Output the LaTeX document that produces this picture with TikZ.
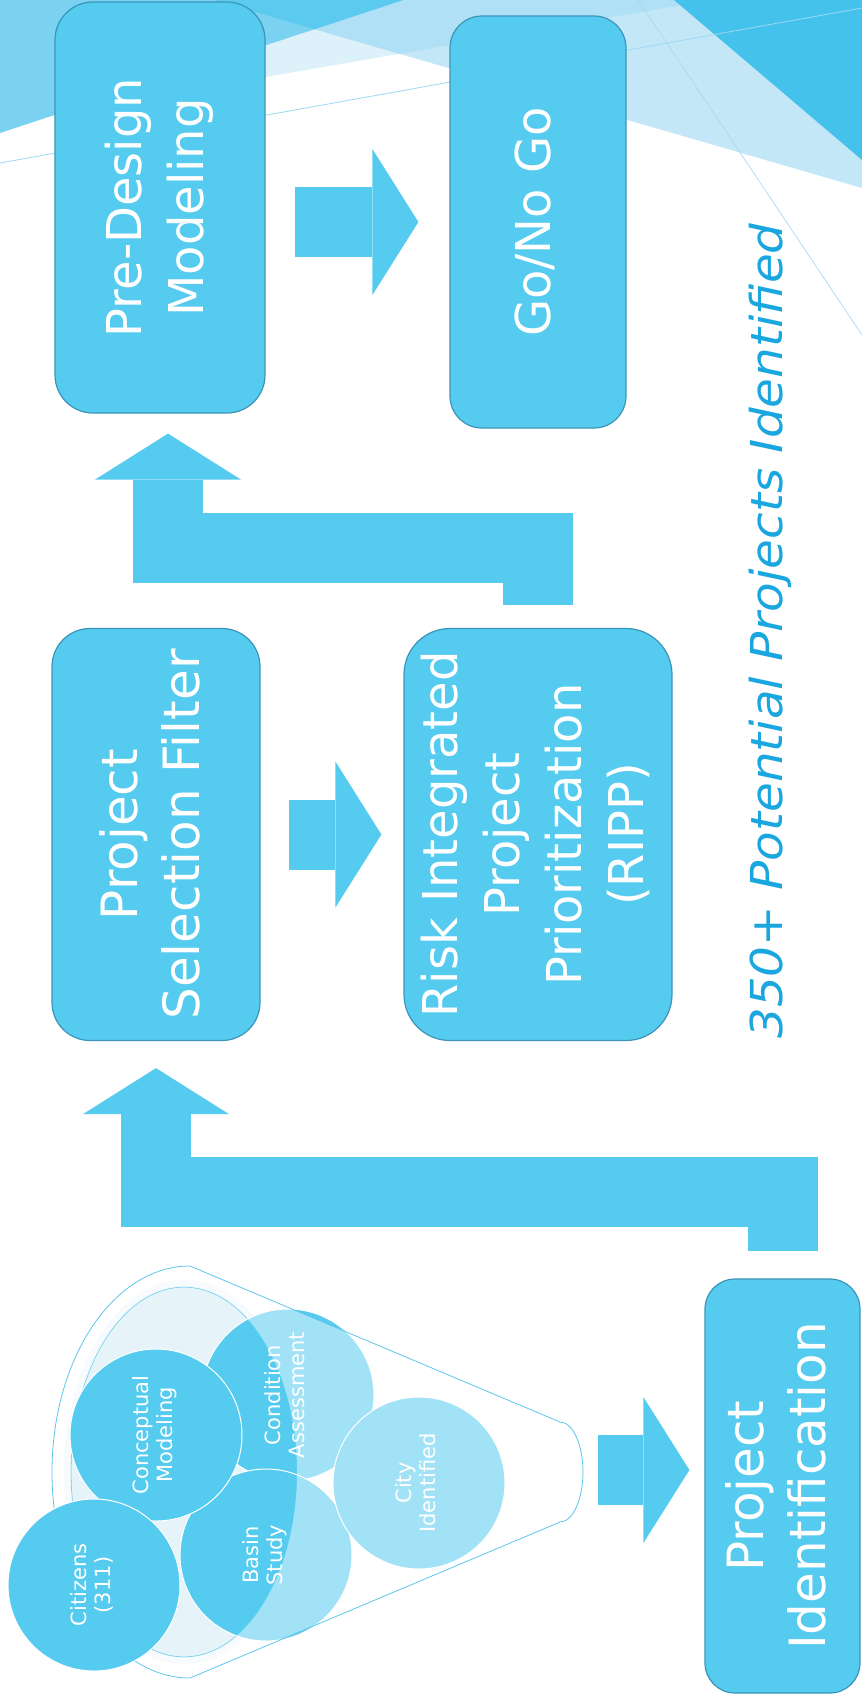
\documentclass[tikz,border=0pt]{standalone}
\usepackage{fontspec}
\setmainfont{DejaVu Sans}
\usetikzlibrary{arrows.meta}
\definecolor{flowblue}{HTML}{55CBEF}
\definecolor{flowedge}{HTML}{3B95B8}
\definecolor{titleblue}{HTML}{1AA6DF}
\definecolor{facetdark}{HTML}{45C2EC}
\definecolor{facetmid}{HTML}{7BD1F0}
\definecolor{facetdeep}{HTML}{5CCAEE}
\definecolor{facetlight}{HTML}{C3E7F7}
\definecolor{facetpale}{HTML}{DDF1FA}
\definecolor{facetsoft}{HTML}{B0E0F5}
\definecolor{facetline}{HTML}{9DD9F2}
\definecolor{mouthtint}{HTML}{E6F4FA}
\definecolor{rimtint}{HTML}{F1F9FD}
\definecolor{funneledge}{HTML}{5EC6EC}
\newcommand{\turnlines}[1]{\rotatebox{90}{\begin{tabular}{@{}c@{}}#1\end{tabular}}}
\begin{document}
\begin{tikzpicture}[x=1pt, y=-1pt,
    stagebox/.style={draw=flowedge, line width=1.2pt, fill=flowblue, text=white, inner sep=0pt},
    bubble/.style={circle, draw=white, line width=1pt, fill=flowblue, text=white, minimum size=172pt, inner sep=0pt, font=\fontsize{21}{24}\selectfont},
    blockarrow/.style={draw=flowblue, line width=70pt, line join=miter, -{Triangle[width=146pt, length=46pt, line width=0pt]}}]
                        \fill[white] (0,0) rectangle (862,1698);
                        \useasboundingbox (0,0) rectangle (862,1698);

                        \fill[facetpale] (0,0) -- (710,0) -- (0,123) -- cycle;
                        \fill[facetlight] (214,0) -- (862,0) -- (862,188) -- cycle;
                        \begin{scope}
                            \clip (214,0) -- (862,0) -- (862,188) -- cycle;
                            \fill[facetsoft] (0,0) -- (710,0) -- (0,123) -- cycle;
                        \end{scope}
                        \fill[facetmid] (0,0) -- (403,0) -- (0,133) -- cycle;
                        \begin{scope}
                            \clip (214,0) -- (862,0) -- (862,188) -- cycle;
                            \fill[facetdeep] (0,0) -- (403,0) -- (0,133) -- cycle;
                        \end{scope}
                        \fill[facetdark] (674,0) -- (862,0) -- (862,160) -- cycle;
                        \draw[facetline, line width=0.8pt] (0,163) -- (862,8);
                        \draw[facetline, line width=0.6pt] (638,0) -- (862,335);

                        \fill[rimtint] (184,1472) ellipse [x radius=120, y radius=192];
                        \filldraw[fill=mouthtint, draw=funneledge, line width=0.8pt] (184,1472) ellipse [x radius=113, y radius=185];
                        \node[bubble] (condition) at (288,1395) {\turnlines{Condition\\Assessment}};
                        \node[bubble] (basin) at (266,1555) {\turnlines{Basin\\Study}};
                        \node[bubble] (cityid) at (419,1483) {\turnlines{City\\Identified}};
                        \fill[white, fill opacity=0.45, even odd rule] (190,1266) -- (560,1422)
                            arc[start angle=-90, end angle=90, x radius=23, y radius=50] -- (190,1678)
                            arc[start angle=90, end angle=270, x radius=138, y radius=206] -- cycle
                            (184,1472) ellipse [x radius=113, y radius=185];
                        \draw[funneledge, line width=0.8pt] (190,1266) -- (560,1422)
                            arc[start angle=-90, end angle=90, x radius=23, y radius=50] -- (190,1678)
                            arc[start angle=90, end angle=270, x radius=138, y radius=206] -- cycle;
                        \node[bubble] (concept) at (156,1435) {\turnlines{Conceptual\\Modeling}};
                        \node[bubble] (citizens) at (94,1585) {\turnlines{Citizens\\(311)}};
                        \coordinate (funnelend) at (583,1470);

                        \node[stagebox, minimum width=210pt, minimum height=411pt, rounded corners=38pt, font=\fontsize{48}{62}\selectfont] (pd) at (160,207.5) {\turnlines{Pre-Design\\Modeling}};
                        \node[stagebox, minimum width=176pt, minimum height=412pt, rounded corners=32pt, font=\fontsize{48}{62}\selectfont] (gonogo) at (538,222) {\turnlines{Go/No Go}};
                        \node[stagebox, minimum width=208pt, minimum height=412pt, rounded corners=38pt, font=\fontsize{50}{62}\selectfont] (psf) at (156,834.5) {\turnlines{Project\\Selection Filter}};
                        \node[stagebox, minimum width=268pt, minimum height=412pt, rounded corners=46pt, font=\fontsize{48}{62}\selectfont] (ripp) at (538,834.5) {\turnlines{Risk Integrated\\Project\\Prioritization\\(RIPP)}};
                        \node[stagebox, minimum width=155pt, minimum height=414pt, rounded corners=30pt, font=\fontsize{50}{62}\selectfont] (pid) at (782.5,1486) {\turnlines{Project\\Identification}};

                        \coordinate (kneelow) at (470,1192);
                        \coordinate (kneehigh) at (350,548);
                        \draw[blockarrow] ([xshift=29pt]pd.east |- gonogo.west) -- ([xshift=-31pt]gonogo.west);
                        \draw[blockarrow] ([xshift=28pt]psf.east) -- ([xshift=-22pt]ripp.west);
                        \draw[blockarrow] ([xshift=15pt]funnelend) -- ([xshift=-15pt]pid.west |- funnelend);
                        \draw[blockarrow] ([yshift=27pt]pid.north) |- (kneelow) -| ([yshift=-27pt]psf.south);
                        \draw[blockarrow] ([yshift=23pt]ripp.north) |- (kneehigh) -| ([xshift=8pt,yshift=-20pt]pd.south);

                        \node[rotate=90, anchor=base, inner sep=0pt, text=titleblue, font=\fontsize{44}{50}\selectfont\itshape] (headline) at (782,631) {\scalebox{1.1}[1]{350+ Potential Projects Identified}};
                    \end{tikzpicture}
\end{document}
